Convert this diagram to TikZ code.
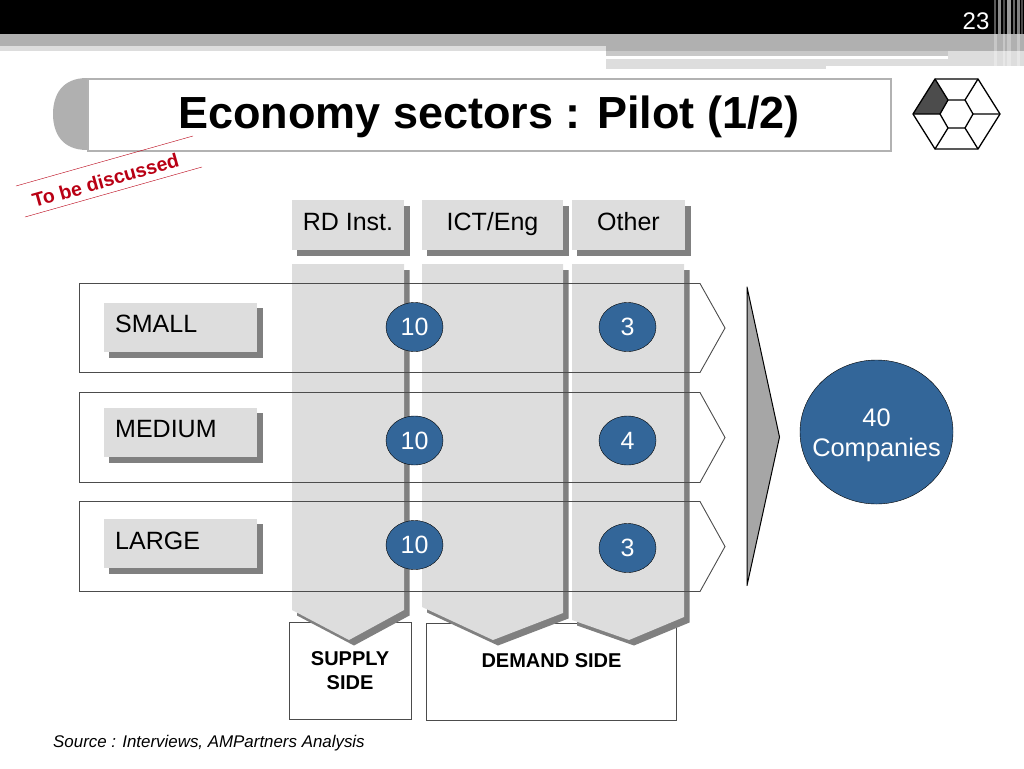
\documentclass[tikz,border=0pt]{standalone}
\usepackage{fontspec}
\setmainfont{Liberation Sans}
\usetikzlibrary{shapes.geometric}
\definecolor{bandgray}{RGB}{176,176,176}
\definecolor{midgray}{RGB}{200,200,200}
\definecolor{palegray}{RGB}{221,221,221}
\definecolor{shadegray}{RGB}{128,128,128}
\definecolor{circleblue}{RGB}{51,102,153}
\definecolor{stampred}{RGB}{185,0,20}

\begin{document}
\begin{tikzpicture}[x=1pt,y=-1pt]
    \tikzstyle{label text}=[font=\fontsize{25}{25}\selectfont]
    \tikzstyle{header}=[fill=palegray,minimum height=50pt,inner sep=0pt]
    \tikzstyle{count}=[ellipse,draw=black,fill=circleblue,text=white,minimum width=57pt,minimum height=49pt,inner sep=0pt,label text]
    \tikzstyle{side}=[draw=black!70,fill=white,inner sep=0pt]
    \tikzstyle{side text}=[font=\fontsize{20}{24}\selectfont\bfseries,align=center]
    \useasboundingbox (0,0) rectangle (1024,768);

    % Draw the top band
    \fill[black] (0,0) rectangle (1024,34);
    \fill[bandgray] (0,34) rectangle (1024,46);
    \fill[palegray] (0,46) rectangle (606,51);
    \fill[bandgray] (606,46) rectangle (1024,51);
    \fill[midgray] (606,51) rectangle (948,56);
    \fill[palegray] (606,59) rectangle (826,69);
    \fill[palegray] (826,59) rectangle (948,66);
    \fill[palegray] (948,51) rectangle (1024,66);
    \foreach \x / \w / \s in {994/2/35,998/3/55,1003/2/30,1007/4/60,1013/2/40,1017/3/50,1021/2/30}
        \fill[white!\s!black] (\x,0) rectangle (\x+\w,34);
    \foreach \x / \w in {994/3,1003/2,1007/4,1017/3}
        \fill[white,opacity=.3] (\x,34) rectangle (\x+\w,68);
    \node[text=white,font=\fontsize{24}{24}\selectfont] (page) at (976,21) {23};

    % Draw the title bar
    \fill[bandgray] (87,78) .. controls (62,78) and (53,95) .. (53,114) .. controls (53,133) and (62,150) .. (87,150) -- cycle;
    \node[draw=black!30,line width=2pt,fill=white,minimum width=803pt,minimum height=72pt,inner sep=0pt] (title) at (489,114.5) {};
    \node[font=\fontsize{45}{45}\selectfont\bfseries] (title-text) at (489,117) {Economy sectors : Pilot (1/2)};

    % Draw the hexagon
    \fill[black!70] (935,79) -- (948,100) -- (940,114) -- (913,114) -- cycle;
    \draw[line width=1.3pt,line join=round] (935,79) -- (978,79) -- (1000,114) -- (978,149) -- (935,149) -- (913,114) -- cycle;
    \draw[line width=1.3pt] (948,100) -- (965,100) -- (973,114) -- (965,128) -- (948,128) -- (940,114) -- cycle;
    \draw[line width=1.3pt] (935,79) -- (948,100) (978,79) -- (965,100) (1000,114) -- (973,114)
        (978,149) -- (965,128) (935,149) -- (948,128) (913,114) -- (940,114);

    % Draw the stamp
    \draw[stampred] (16,186) -- (193,136);
    \draw[stampred] (25,217) -- (202,167);
    \node[text=stampred,rotate=15.8,inner sep=0pt,font=\fontsize{19.5}{20}\selectfont\bfseries] (stamp) at (105.5,180.5) {To be discussed};

    % Draw the bottom boxes
    \node[side,minimum width=122pt,minimum height=97pt] (supply) at (350,670.5) {};
    \node[side,minimum width=250pt,minimum height=97pt] (demand) at (551,671.5) {};

    % Draw the columns
    \foreach \l / \r / \m / \yl / \yr in {292/404/349/610/610,422/563/493/607/613,572/684/629/620/617} {
        \fill[shadegray] (\l+5,270) -- (\r+5.5,270) -- (\r+5.5,\yr+5.5) -- (\m+5,645.5) -- (\l+5,\yl+5.5) -- cycle;
        \fill[palegray] (\l,264) -- (\r,264) -- (\r,\yr) -- (\m,640) -- (\l,\yl) -- cycle;
    }

    % Draw the header nodes
    \foreach \l / \r / \txt / \name in {292/404/RD Inst./rd,422/563/ICT\slash Eng/ict,572/685/Other/other} {
        \fill[shadegray] (\l+5,206) rectangle (\r+6,256);
        \node[header,minimum width=\r pt-\l pt] (\name-head) at ({(\l+\r)/2},225) {};
        \node[label text,anchor=base,inner sep=0pt] (\name-text) at ({(\l+\r)/2},230) {\txt};
    }

    % Draw the rows
    \foreach \y / \b in {283.5/372.5,392.5/482.5,501.5/591.5}
        \draw[black!70,line width=.9pt] (79.5,\y) -- (700,\y) -- (725,{(\y+\b)/2}) -- (700,\b) -- (79.5,\b) -- cycle;

    % Draw the size labels
    \foreach \t / \txt / \ty / \name in {303/SMALL/324/small,408/MEDIUM/429/medium,519/LARGE/541/large} {
        \fill[shadegray] (109,\t+5) rectangle (263,\t+55);
        \fill[palegray] (104,\t) rectangle (257,\t+49);
        \node[label text,anchor=west,inner sep=0pt] (\name-label) at (115,\ty) {\txt};
    }

    % Draw the count nodes
    \foreach \x / \y / \n / \name in {414.5/327/10/a,627.5/327/3/b,414.5/440.5/10/c,627.5/440.5/4/d,414.5/545/10/e,627.5/548/3/f}
        \node[count] (\name) at (\x,\y) {\n};

    % Draw the merge arrow and the total
    \draw[black,line width=1pt,line join=round,fill=black!35] (747,287) -- (779.5,437) -- (747,585.5) -- cycle;
    \node[ellipse,draw=black,fill=circleblue,minimum width=153pt,minimum height=144pt,inner sep=0pt] (total) at (876.5,432) {};
    \node[text=white,align=center,font=\fontsize{25.4}{30}\selectfont] (total-text) at (876.5,435) {40\\Companies};

    % Annotate the boxes
    \node[side text] (supply-text) at (350,671) {SUPPLY\\SIDE};
    \node[side text] (demand-text) at (551.5,661) {DEMAND SIDE};
    \node[anchor=west,inner sep=0pt,font=\fontsize{16.9}{17}\selectfont\itshape] (source) at (53,743) {Source : Interviews, AMPartners Analysis};
\end{tikzpicture}
\end{document}
